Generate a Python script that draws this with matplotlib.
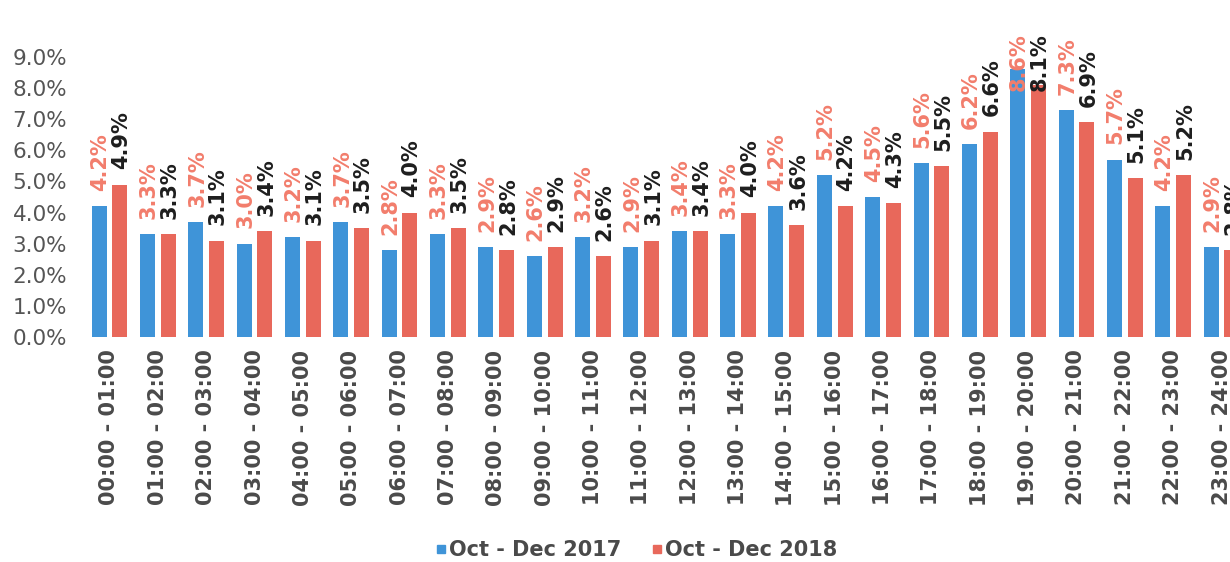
import matplotlib
matplotlib.use("Agg")
import matplotlib.pyplot as plt
from matplotlib.lines import Line2D
import numpy as np

categories = [f"{h:02d}:00 - {h+1:02d}:00" for h in range(24)]
series_2017 = [4.2, 3.3, 3.7, 3.0, 3.2, 3.7, 2.8, 3.3, 2.9, 2.6, 3.2, 2.9,
               3.4, 3.3, 4.2, 5.2, 4.5, 5.6, 6.2, 8.6, 7.3, 5.7, 4.2, 2.9]
series_2018 = [4.9, 3.3, 3.1, 3.4, 3.1, 3.5, 4.0, 3.5, 2.8, 2.9, 2.6, 3.1,
               3.4, 4.0, 3.6, 4.2, 4.3, 5.5, 6.6, 8.1, 6.9, 5.1, 5.2, 2.8]
legend_labels = ["Oct - Dec 2017", "Oct - Dec 2018"]
yticks = [0, 1, 2, 3, 4, 5, 6, 7, 8, 9]

BLUE = "#3F94D8"
RED = "#E8685B"
LABEL_2017 = "#F27D6C"
LABEL_2018 = "#1E1E1E"
GRAY = "#555555"

fig = plt.figure(figsize=(12.3, 5.62), dpi=100)
L = 85.3 / 1230
W = (1245.7 - 85.3) / 1230
B = 1 - 337 / 562
H = (337 - 57) / 562
ax = fig.add_axes([L, B, W, H])

x = np.arange(len(categories))
off = 0.215
bw = 0.31
ax.bar(x - off, series_2017, width=bw, color=BLUE, clip_on=False)
ax.bar(x + off, series_2018, width=bw, color=RED, clip_on=False)

ax.set_xlim(-0.5, len(categories) - 0.5)
ax.set_ylim(0, 9)

# label placement: above the bar, but kept inside the top of the chart area
top_limit_px = 562 - 33  # display pixels (from bottom) of label top limit
fig.canvas.draw()
renderer = fig.canvas.get_renderer()


def place(xc, v, color):
    t = ax.annotate(f"{v:.1f}%", (xc, v), xytext=(1, 11), textcoords="offset points",
                    rotation=90, ha="center", va="bottom", fontsize=15, fontweight="bold",
                    color=color, annotation_clip=False)
    bb = t.get_window_extent(renderer)
    if bb.y1 > top_limit_px:
        shift_pts = (bb.y1 - top_limit_px) * 72 / fig.dpi
        t.set_position((1, 11 - shift_pts))
    return t


for xi, v in zip(x, series_2017):
    place(xi - off, v, LABEL_2017)
for xi, v in zip(x, series_2018):
    place(xi + off, v, LABEL_2018)

ax.set_yticks(yticks)
ax.set_yticklabels([f"{t:.1f}%" for t in yticks], fontsize=15.5, color=GRAY)
ax.set_xticks(x)
ax.set_xticklabels(categories, rotation=90, fontsize=15, fontweight="bold", color="#4a4a4a")
ax.tick_params(axis="both", length=0)
ax.tick_params(axis="x", pad=9)
ax.tick_params(axis="y", pad=13)
for s in ax.spines.values():
    s.set_visible(False)

handles = [Line2D([], [], marker="s", linestyle="none", markersize=6, color=BLUE),
           Line2D([], [], marker="s", linestyle="none", markersize=6, color=RED)]
fig.legend(handles, legend_labels, loc="center", bbox_to_anchor=(0.516, 0.021),
           ncol=2, frameon=False, handletextpad=0.0, columnspacing=1.3,
           prop={"size": 15, "weight": "bold"}, labelcolor="#4a4a4a", handlelength=0.8)

fig.savefig("out.png", dpi=100)
